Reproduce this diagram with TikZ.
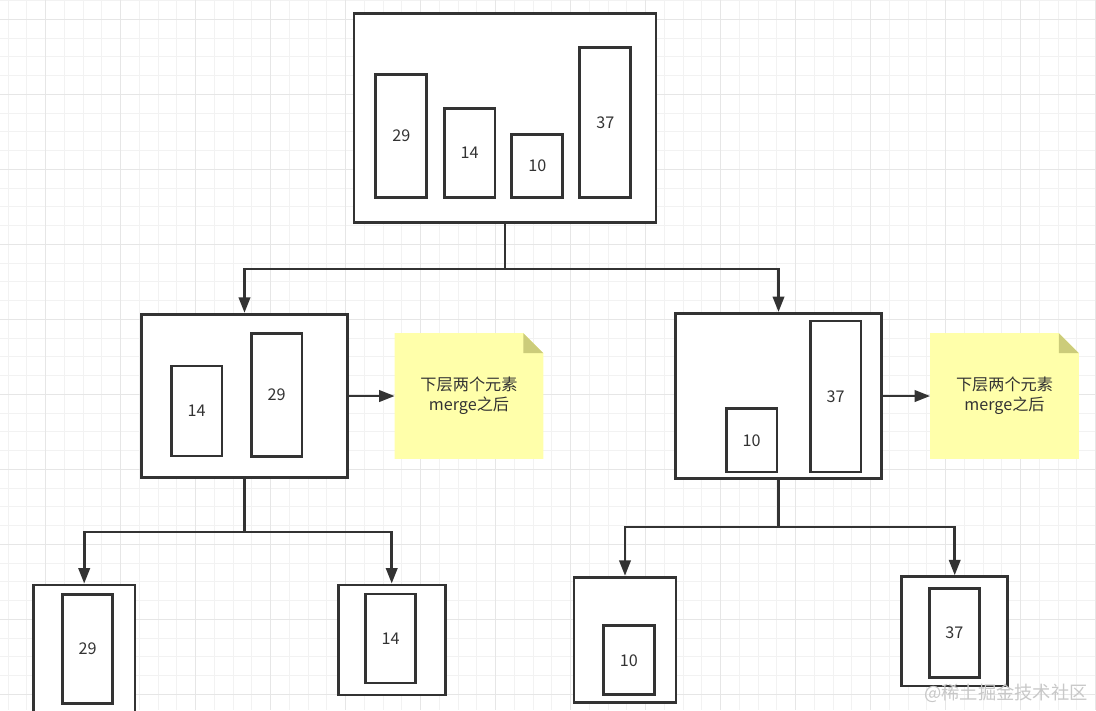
\documentclass[tikz,border=0pt]{standalone}
\usepackage{fontspec}
\newfontfamily\cjk{Noto Sans CJK SC}
\usetikzlibrary{calc,backgrounds,arrows.meta}
\definecolor{linegray}{RGB}{51,51,51}
\definecolor{notefill}{RGB}{255,255,170}
\definecolor{notefold}{RGB}{204,204,122}
\definecolor{gridminor}{RGB}{242,242,242}
\definecolor{gridmajor}{RGB}{230,230,230}
\definecolor{markgray}{RGB}{200,200,200}

\begin{document}
\begin{tikzpicture}[
    x=0.025cm, y=-0.025cm,
    font=\cjk\fontsize{11.5}{14}\selectfont,
    % Node styles
    outer/.style={draw=linegray, line width=2pt, fill=white, inner sep=0pt},
    bar/.style={draw=linegray, line width=2pt, fill=white, inner sep=0pt, minimum width=1.27cm, text=linegray},
    note/.style={inner sep=0pt, minimum width=3.7cm, minimum height=3.13cm, align=center, text=linegray},
    arrow/.style={-{Triangle[length=11pt,width=8pt]}, line width=2pt, draw=linegray},
]

    \useasboundingbox (0,0) rectangle (1096,710);
    \clip (0,0) rectangle (1096,710);

    % Grid
    \begin{scope}[on background layer]
        \fill[white] (0,0) rectangle (1096,710);
        \foreach \i in {0,...,58} {
            \draw[gridminor, line width=0.5pt] ({7.95+18.75*\i},0) -- ++(0,710);
        }
        \foreach \i in {0,...,38} {
            \draw[gridminor, line width=0.5pt] (0,{0.55+18.75*\i}) -- ++(1096,0);
        }
        \foreach \i in {0,...,14} {
            \draw[gridmajor, line width=0.5pt] ({45.7+75*\i},0) -- ++(0,710);
        }
        \foreach \i in {0,...,9} {
            \draw[gridmajor, line width=0.5pt] (0,{19.3+75*\i}) -- ++(1096,0);
        }
    \end{scope}

    % Top level
    \node[outer, minimum width=7.55cm, minimum height=5.235cm] (root) at (505,118) {};
    \node[bar, minimum height=3.085cm] (root29) at (401.3,136) {29};
    \node[bar, minimum height=2.235cm] (root14) at (469.5,153) {14};
    \node[bar, minimum height=1.575cm] (root10) at (537.3,166.2) {10};
    \node[bar, minimum height=3.76cm] (root37) at (605.3,122.5) {37};

    % Second level
    \node[outer, minimum width=5.14cm, minimum height=4.085cm] (lpart) at (244.5,396) {};
    \node[bar, minimum height=2.25cm] (l14) at (196.5,411) {14};
    \node[bar, minimum height=3.07cm] (l29) at (276.5,394.7) {29};

    \node[outer, minimum width=5.14cm, minimum height=4.125cm] (rpart) at (778.5,396) {};
    \node[bar, minimum height=1.58cm] (r10) at (751.5,440.3) {10};
    \node[bar, minimum height=3.775cm] (r37) at (835.5,396.5) {37};

    % Notes
    \node[note] (lnote) at (469,396) {下层两个元素\\merge之后};
    \node[note] (rnote) at (1004.5,396) {下层两个元素\\merge之后};

    % Bottom level
    \node[outer, minimum width=2.54cm, minimum height=3.5cm] (b29) at (84.2,655) {};
    \node[bar, minimum width=1.26cm, minimum height=2.73cm] (b29in) at (87.5,648.7) {29};
    \node[outer, minimum width=2.67cm, minimum height=2.75cm] (b14) at (391.7,640) {};
    \node[bar, minimum width=1.24cm, minimum height=2.225cm] (b14in) at (390.5,638.5) {14};
    \node[outer, minimum width=2.55cm, minimum height=3.125cm] (b10) at (625,639.8) {};
    \node[bar, minimum height=1.72cm] (b10in) at (628.8,660.3) {10};
    \node[outer, minimum width=2.65cm, minimum height=2.73cm] (b37) at (954.7,631.3) {};
    \node[bar, minimum width=1.25cm, minimum height=2.235cm] (b37in) at (954.3,633) {37};

    % Connections
    \coordinate (split1) at (505,269);
    \draw[arrow] (root.south) -- (split1) -| (lpart.north);
    \draw[arrow] (split1) -| (rpart.north);
    \coordinate (split2) at (244.5,532);
    \draw[arrow] (lpart.south) -- (split2) -| (b29.north);
    \draw[arrow] (split2) -| (b14.north);
    \coordinate (split3) at (778.5,527);
    \draw[arrow] (rpart.south) -- (split3) -| (b10.north);
    \draw[arrow] (split3) -| (b37.north);
    \draw[arrow] (lpart.east) -- (lnote.west);
    \draw[arrow] (rpart.east) -- (rnote.west);

    % Note paper with folded corner
    \begin{scope}[on background layer]
        \foreach \n in {lnote,rnote} {
            \fill[notefill] (\n.south west) -- (\n.north west) -- ($(\n.north east)+(-20,0)$)
                -- ($(\n.north east)+(0,20)$) -- (\n.south east) -- cycle;
            \fill[notefold] ($(\n.north east)+(-20,0)$) -- ($(\n.north east)+(-20,20)$)
                -- ($(\n.north east)+(0,20)$) -- cycle;
        }
    \end{scope}

    % Watermark
    \node[anchor=east, text=markgray, inner sep=0pt, font=\cjk\fontsize{13}{15}\selectfont] (wmark) at (1088,693) {@稀土掘金技术社区};

\end{tikzpicture}
\end{document}
